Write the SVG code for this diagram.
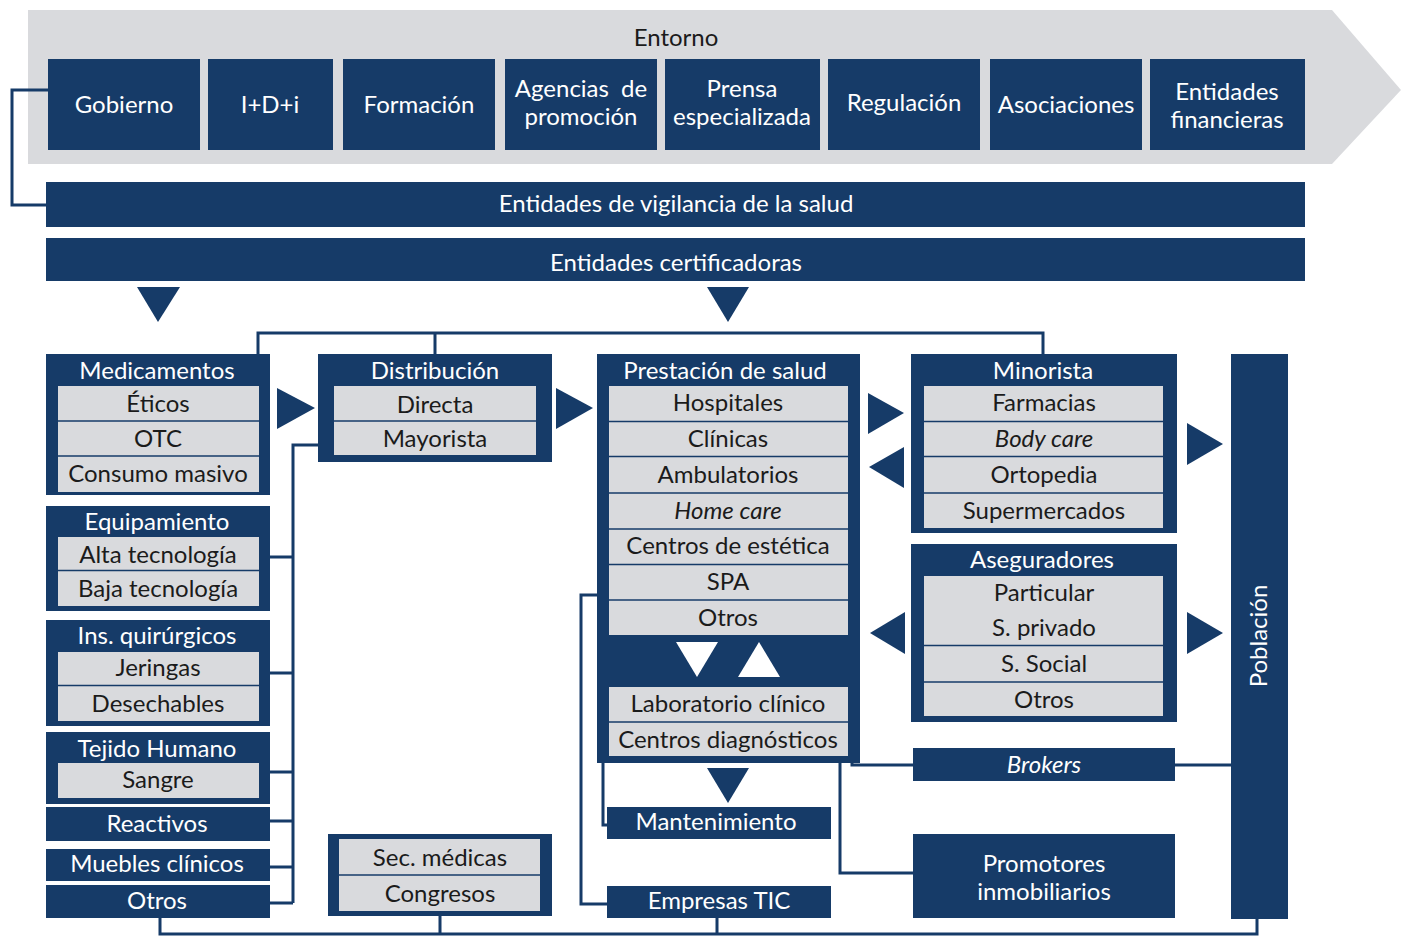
<svg xmlns="http://www.w3.org/2000/svg" width="1408" height="937" viewBox="0 0 1408 937">
<style>
.nv{fill:#163b68}
.gr{fill:#d9dadd}
.sep{stroke:#163b68;stroke-width:1.6}
text{font-family:Lato,"Open Sans","DejaVu Sans",sans-serif;font-size:24px;text-anchor:middle}
.w{fill:#ffffff}
.k{fill:#1b1b1b}
.i{font-style:italic}
.ln{stroke:#163b68;stroke-width:3;fill:none}
.tri{fill:#163b68}
.wt{fill:#ffffff}
</style>
<rect width="1408" height="937" fill="#ffffff"/>

<g id="entorno">
<polygon points="28,10 1332,10 1401,90 1332,164 28,164" fill="#d9dadd"/>
<text x="676" y="46" class="k">Entorno</text>
</g>
<g id="gobierno"><rect x="48" y="59" width="152" height="91" class="nv"/><text x="124" y="113" class="w">Gobierno</text></g>
<g id="idi"><rect x="208" y="59" width="125" height="91" class="nv"/><text x="270" y="113" class="w">I+D+i</text></g>
<g id="formacion"><rect x="343" y="59" width="152" height="91" class="nv"/><text x="419" y="113" class="w">Formación</text></g>
<g id="agencias"><rect x="505" y="59" width="152" height="91" class="nv"/><text x="581" y="97" class="w" word-spacing="6">Agencias de</text><text x="581" y="125" class="w">promoción</text></g>
<g id="prensa"><rect x="665" y="59" width="155" height="91" class="nv"/><text x="742" y="97" class="w">Prensa</text><text x="742" y="125" class="w">especializada</text></g>
<g id="regulacion"><rect x="828" y="59" width="152" height="91" class="nv"/><text x="904" y="111" class="w">Regulación</text></g>
<g id="asociaciones"><rect x="990" y="59" width="152" height="91" class="nv"/><text x="1066" y="113" class="w">Asociaciones</text></g>
<g id="financieras"><rect x="1150" y="59" width="155" height="91" class="nv"/><text x="1227" y="100" class="w">Entidades</text><text x="1227" y="128" class="w">financieras</text></g>

<g id="vigilancia"><rect x="46" y="182" width="1259" height="45" class="nv"/><text x="676" y="212" class="w">Entidades de vigilancia de la salud</text></g>
<g id="certificadoras"><rect x="46" y="238" width="1259" height="43" class="nv"/><text x="676" y="271" class="w">Entidades certificadoras</text></g>

<g id="connectors">
<path class="ln" d="M48,90 H12 V205 H46"/>
<path class="ln" d="M258,354 V333 H1043 V354 M435,333 V354"/>
<path class="ln" d="M318,445 H293 V903 M270,557 H293 M270,673 H293 M270,772 H293 M270,821 H293 M270,867 H293 M270,903 H293"/>
<path class="ln" d="M160,918 V934 H1257 V919 M440,916 V934 M717,918 V934"/>
<path class="ln" d="M597,595 H581 V904 H607"/>
<path class="ln" d="M603,763 V825 H607"/>
<path class="ln" d="M852,763 V765 H913"/>
<path class="ln" d="M840,763 V873 H913"/>
<path class="ln" d="M1175,765 H1231"/>
<polygon class="tri" points="137,287 180,287 158,322"/>
<polygon class="tri" points="707,287 749,287 728,322"/>
<polygon class="tri" points="277,388 315,408 277,429"/>
<polygon class="tri" points="556,388 593,408 556,429"/>
<polygon class="tri" points="868,393 904,413 868,434"/>
<polygon class="tri" points="904,447 869,467 904,488"/>
<polygon class="tri" points="905,612 870,633 905,654"/>
<polygon class="tri" points="1187,423 1223,444 1187,465"/>
<polygon class="tri" points="1187,612 1223,633 1187,654"/>
<polygon class="tri" points="707,768 749,768 728,803"/>
</g>

<g id="medicamentos">
<rect x="46" y="354" width="224" height="141" class="nv"/>
<text x="157" y="379" class="w">Medicamentos</text>
<rect x="58" y="386" width="201" height="106" class="gr"/>
<line x1="58" y1="421" x2="259" y2="421" class="sep"/><line x1="58" y1="456" x2="259" y2="456" class="sep"/>
<text x="158" y="412" class="k">Éticos</text>
<text x="158" y="447" class="k">OTC</text>
<text x="158" y="482" class="k">Consumo masivo</text>
</g>
<g id="equipamiento">
<rect x="46" y="506" width="224" height="105" class="nv"/>
<text x="157" y="530" class="w">Equipamiento</text>
<rect x="58" y="537" width="201" height="69" class="gr"/>
<line x1="58" y1="570.5" x2="259" y2="570.5" class="sep"/>
<text x="158" y="563" class="k">Alta tecnología</text>
<text x="158" y="597" class="k">Baja tecnología</text>
</g>
<g id="quirurgicos">
<rect x="46" y="620" width="224" height="106" class="nv"/>
<text x="157" y="644" class="w">Ins. quirúrgicos</text>
<rect x="58" y="652" width="201" height="69" class="gr"/>
<line x1="58" y1="685.5" x2="259" y2="685.5" class="sep"/>
<text x="158" y="676" class="k">Jeringas</text>
<text x="158" y="712" class="k">Desechables</text>
</g>
<g id="tejido">
<rect x="46" y="732" width="224" height="72" class="nv"/>
<text x="157" y="757" class="w">Tejido Humano</text>
<rect x="58" y="763" width="201" height="35" class="gr"/>
<text x="158" y="788" class="k">Sangre</text>
</g>
<g id="reactivos"><rect x="46" y="807" width="224" height="34" class="nv"/><text x="157" y="832" class="w">Reactivos</text></g>
<g id="muebles"><rect x="46" y="849" width="224" height="32" class="nv"/><text x="157" y="872" class="w">Muebles clínicos</text></g>
<g id="otros-insumos"><rect x="46" y="885" width="224" height="33" class="nv"/><text x="157" y="909" class="w">Otros</text></g>

<g id="distribucion">
<rect x="318" y="354" width="234" height="108" class="nv"/>
<text x="435" y="379" class="w">Distribución</text>
<rect x="334" y="386" width="202" height="69" class="gr"/>
<line x1="334" y1="421" x2="536" y2="421" class="sep"/>
<text x="435" y="413" class="k">Directa</text>
<text x="435" y="447" class="k">Mayorista</text>
</g>

<g id="eventos">
<rect x="328" y="834" width="224" height="82" class="nv"/>
<rect x="339" y="839" width="201" height="72" class="gr"/>
<line x1="339" y1="875" x2="540" y2="875" class="sep"/>
<text x="440" y="866" class="k">Sec. médicas</text>
<text x="440" y="902" class="k">Congresos</text>
</g>

<g id="prestacion">
<rect x="597" y="354" width="263" height="409" class="nv"/>
<text x="725" y="379" class="w">Prestación de salud</text>
<rect x="609" y="386" width="239" height="249" class="gr"/>
<line x1="609" y1="421.5" x2="848" y2="421.5" class="sep"/>
<line x1="609" y1="456.5" x2="848" y2="456.5" class="sep"/>
<line x1="609" y1="493" x2="848" y2="493" class="sep"/>
<line x1="609" y1="529" x2="848" y2="529" class="sep"/>
<line x1="609" y1="564.5" x2="848" y2="564.5" class="sep"/>
<line x1="609" y1="600" x2="848" y2="600" class="sep"/>
<text x="728" y="411" class="k">Hospitales</text>
<text x="728" y="447" class="k">Clínicas</text>
<text x="728" y="483" class="k">Ambulatorios</text>
<text x="728" y="519" class="k i">Home care</text>
<text x="728" y="554" class="k">Centros de estética</text>
<text x="728" y="590" class="k">SPA</text>
<text x="728" y="626" class="k">Otros</text>
<polygon class="wt" points="676,642 718,642 697,677"/>
<polygon class="wt" points="738,677 780,677 759,642"/>
<rect x="609" y="687" width="239" height="69" class="gr"/>
<line x1="609" y1="722" x2="848" y2="722" class="sep"/>
<text x="728" y="712" class="k">Laboratorio clínico</text>
<text x="728" y="748" class="k">Centros diagnósticos</text>
</g>

<g id="mantenimiento"><rect x="607" y="807" width="224" height="32" class="nv"/><text x="716" y="830" class="w">Mantenimiento</text></g>
<g id="tic"><rect x="607" y="886" width="224" height="32" class="nv"/><text x="719" y="909" class="w">Empresas TIC</text></g>

<g id="minorista">
<rect x="911" y="354" width="266" height="179" class="nv"/>
<text x="1043" y="379" class="w">Minorista</text>
<rect x="924" y="386" width="239" height="142" class="gr"/>
<line x1="924" y1="421.5" x2="1163" y2="421.5" class="sep"/>
<line x1="924" y1="456.5" x2="1163" y2="456.5" class="sep"/>
<line x1="924" y1="493" x2="1163" y2="493" class="sep"/>
<text x="1044" y="411" class="k">Farmacias</text>
<text x="1044" y="447" class="k i">Body care</text>
<text x="1044" y="483" class="k">Ortopedia</text>
<text x="1044" y="519" class="k">Supermercados</text>
</g>

<g id="aseguradores">
<rect x="911" y="544" width="266" height="178" class="nv"/>
<text x="1042" y="568" class="w">Aseguradores</text>
<rect x="924" y="576" width="239" height="140" class="gr"/>
<line x1="924" y1="645.5" x2="1163" y2="645.5" class="sep"/>
<line x1="924" y1="682" x2="1163" y2="682" class="sep"/>
<text x="1044" y="601" class="k">Particular</text>
<text x="1044" y="636" class="k">S. privado</text>
<text x="1044" y="672" class="k">S. Social</text>
<text x="1044" y="708" class="k">Otros</text>
</g>

<g id="brokers"><rect x="913" y="748" width="262" height="33" class="nv"/><text x="1044" y="773" class="w i">Brokers</text></g>
<g id="promotores"><rect x="913" y="834" width="262" height="84" class="nv"/><text x="1044" y="872" class="w">Promotores</text><text x="1044" y="900" class="w">inmobiliarios</text></g>
<g id="poblacion"><rect x="1231" y="354" width="57" height="565" class="nv"/><text x="0" y="0" class="w" transform="translate(1267,636) rotate(-90)">Población</text></g>
</svg>
